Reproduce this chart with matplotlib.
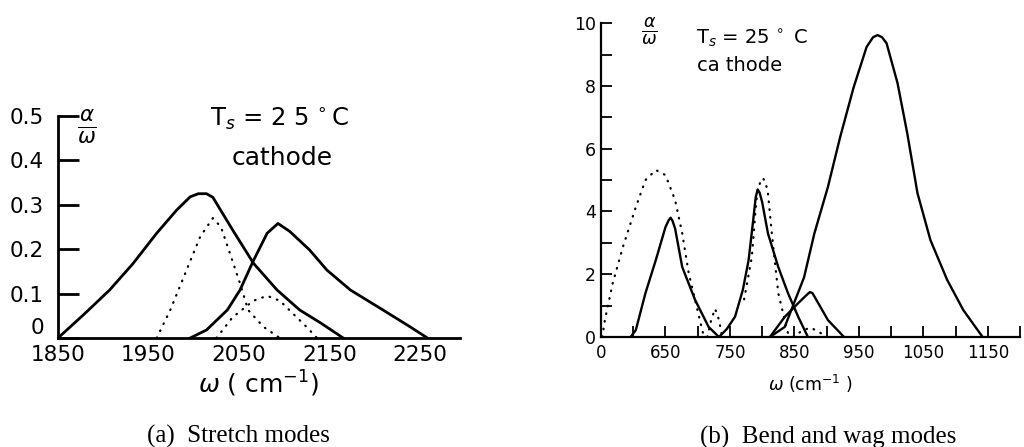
import matplotlib
matplotlib.use("Agg")
import matplotlib.pyplot as plt
import numpy as np

# ---- (a) stretch modes: values ----
s1_x = [1850, 1878, 1907, 1933, 1959, 1981, 1996, 2005, 2014, 2021, 2043, 2066, 2092, 2117, 2140, 2165]
s1_y = [0, 0.052, 0.108, 0.168, 0.236, 0.288, 0.318, 0.325, 0.325, 0.317, 0.243, 0.168, 0.108, 0.063, 0.034, 0.0]
s2_x = [1996, 2014, 2037, 2051, 2066, 2081, 2093, 2106, 2128, 2147, 2173, 2209, 2239, 2258]
s2_y = [0, 0.018, 0.063, 0.108, 0.175, 0.236, 0.258, 0.24, 0.198, 0.153, 0.108, 0.063, 0.025, 0.0]
d1_x = [1959, 1974, 1992, 2007, 2021, 2030, 2040, 2051, 2060, 2077, 2095]
d1_y = [0, 0.063, 0.153, 0.228, 0.27, 0.25, 0.19, 0.123, 0.063, 0.025, 0.0]
d2_x = [2025, 2043, 2066, 2081, 2095, 2110, 2125, 2136]
d2_y = [0, 0.047, 0.084, 0.095, 0.084, 0.054, 0.024, 0.0]

a_ticks = [1850, 1950, 2050, 2150, 2250]
a_yticks = [0, 0.1, 0.2, 0.3, 0.4, 0.5]
a_ylabels = ['0', '0.1', '0.2', '0.3', '0.4', '0.5']

# ---- (b) bend and wag modes ----
dA_x = [552, 556, 568, 584, 604, 619, 635, 650, 665, 676, 686, 696, 707, 710]
dA_y = [0, 0.54, 1.7, 2.87, 4.14, 5.0, 5.32, 5.16, 4.36, 3.3, 2.04, 1.18, 0.22, 0]
dB_x = [715, 721, 727, 733, 738]
dB_y = [0, 0.55, 0.9, 0.55, 0]
sB_x = [596, 604, 619, 635, 650, 655, 658, 661, 665, 676, 696, 717, 733]
sB_y = [0, 0.22, 1.4, 2.45, 3.5, 3.72, 3.8, 3.7, 3.45, 2.23, 1.18, 0.32, 0]
sC_x = [733, 745, 758, 770, 779, 786, 790, 793, 796, 800, 809, 825, 840, 856, 871]
sC_y = [0, 0.25, 0.65, 1.5, 2.45, 3.7, 4.45, 4.7, 4.6, 4.3, 3.3, 2.23, 1.4, 0.64, 0]
dD_x = [772, 784, 791, 797, 801, 805, 809, 815, 825, 835, 840, 850]
dD_y = [1.2, 2.55, 4.36, 4.95, 5.06, 4.95, 4.58, 3.3, 1.4, 0.54, 0.13, 0]
dE_x = [848, 862, 875, 889, 900]
dE_y = [0, 0.2, 0.3, 0.15, 0]
sE_x = [812, 835, 856, 868, 874, 878, 887, 902, 927]
sE_y = [0, 0.64, 1.08, 1.32, 1.43, 1.4, 1.08, 0.54, 0]
sF_x = [812, 835, 865, 881, 902, 921, 942, 962, 972, 979, 986, 993, 1010, 1025, 1041, 1061, 1087, 1112, 1142]
sF_y = [0, 0.32, 1.9, 3.3, 4.78, 6.37, 7.96, 9.24, 9.55, 9.62, 9.55, 9.36, 8.09, 6.5, 4.58, 3.09, 1.82, 0.86, 0]

b_ticks = [550, 650, 750, 850, 950, 1050, 1150]
b_labels = ['0', '650', '750', '850', '950', '1050', '1150']

plt.rcParams['font.family'] = ['DejaVu Sans']

fig = plt.figure(figsize=(10.24, 4.47), dpi=100)
W, H = 1024, 447

def px_axes(x0, x1, ytop, ybot):
    return fig.add_axes([x0 / W, (H - ybot) / H, (x1 - x0) / W, (ybot - ytop) / H])

solid = dict(color='black', lw=2.0, solid_joinstyle='round')
dots = dict(color='black', lw=1.6, linestyle=(0, (0.3, 3.2)), dash_capstyle='round')

# panel (a)
ax = px_axes(58, 460, 116, 338)
ax.plot(s1_x, s1_y, **solid)
ax.plot(s2_x, s2_y, **solid)
ax.plot(d1_x, d1_y, **dots)
ax.plot(d2_x, d2_y, **dots)
ax.set_xlim(1850, 2294)
ax.set_ylim(0, 0.5)
for s in ['top', 'right']:
    ax.spines[s].set_visible(False)
for s in ['left', 'bottom']:
    ax.spines[s].set_linewidth(2.0)
ax.spines['left'].set_bounds(0, 0.5)
ax.set_xticks(a_ticks)
ax.set_xticklabels([str(t) for t in a_ticks], fontsize=15.5)
ax.set_yticks(a_yticks)
ax.set_yticklabels(a_ylabels, fontsize=15.5)
ax.tick_params(axis='x', length=0, pad=5)
ax.tick_params(axis='y', direction='in', length=15, width=2, pad=10)
# lift the "0" so it clears the 1850 label
ax.get_yticklabels()[0].set_va('bottom')
ax.text(1871, 0.52, r'$\frac{\alpha}{\omega}$', fontsize=22, va='top', ha='left')
ax.text(2095, 0.493, r'T$_s$ = 2 5$\,^\circ$C', fontsize=17.5, ha='center', va='center')
ax.text(2098, 0.405, 'cathode', fontsize=18, ha='center', va='center')
ax.set_xlabel(r'$\omega$ ( cm$^{-1}$)', fontsize=18, labelpad=3)

# panel (b)
bx = px_axes(601, 1020, 20, 337)
bx.plot(dA_x, dA_y, **dots)
bx.plot(dB_x, dB_y, **dots)
bx.plot(dD_x, dD_y, **dots)
bx.plot(dE_x, dE_y, **dots)
for xs, ys in [(sB_x, sB_y), (sC_x, sC_y), (sE_x, sE_y), (sF_x, sF_y)]:
    bx.plot(xs, ys, color='black', lw=1.7, solid_joinstyle='round')
bx.set_xlim(550, 1195)
bx.set_ylim(0, 10.1)
for s in ['top', 'right']:
    bx.spines[s].set_visible(False)
for s in ['left', 'bottom']:
    bx.spines[s].set_linewidth(1.6)
bx.spines['left'].set_bounds(0, 10)
bx.set_xticks(b_ticks)
bx.set_xticklabels(b_labels, fontsize=12)
bx.set_xticks(np.arange(600, 1201, 100), minor=True)
bx.set_yticks([0, 2, 4, 6, 8, 10])
bx.set_yticks([1, 3, 5, 7, 9], minor=True)
bx.set_yticklabels(['0', '2', '4', '6', '8', '10'], fontsize=12.5)
bx.tick_params(axis='both', which='both', direction='in', length=8, width=1.3)
bx.tick_params(axis='x', pad=5)
bx.text(612, 10.25, r'$\frac{\alpha}{\omega}$', fontsize=18, va='top', ha='left')
bx.text(697, 9.5, r'T$_s$ = 25$\,^\circ$ C', fontsize=14, ha='left', va='center')
bx.text(699, 8.65, 'ca thode', fontsize=14, ha='left', va='center')
bx.set_xlabel(r'$\omega$ (cm$^{-1}$ )', fontsize=12.5, labelpad=8)

# captions
fig.text(238 / W, 1 - 436 / H, '(a)  Stretch modes', family='Liberation Serif',
         fontsize=18, ha='center', va='center')
fig.text(828 / W, 1 - 437 / H, '(b)  Bend and wag modes', family='Liberation Serif',
         fontsize=18, ha='center', va='center')

fig.savefig('out.png', dpi=100)
